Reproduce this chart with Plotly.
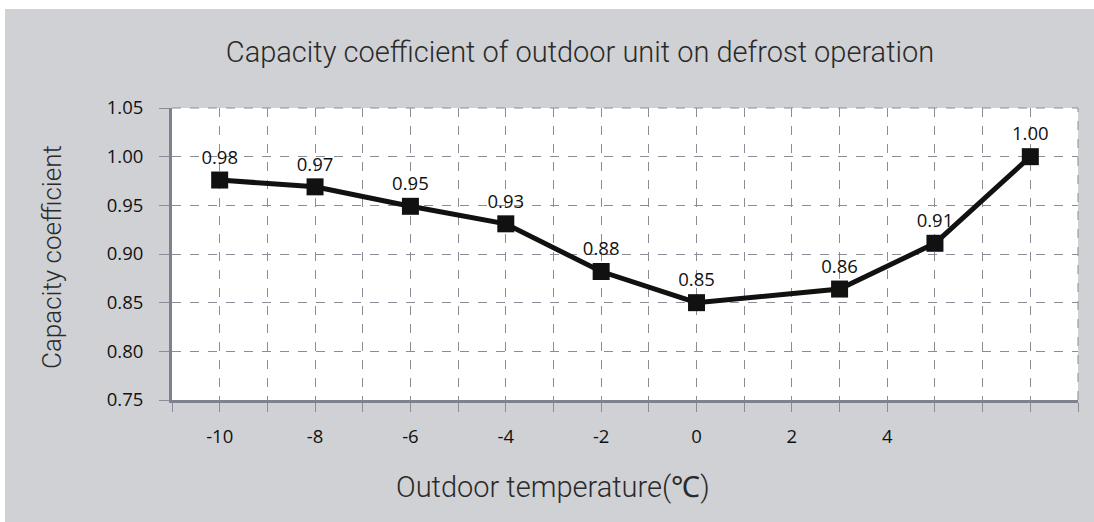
import plotly.graph_objects as go

# Data
temps = [-10, -8, -6, -4, -2, 0, 3, 5, 7]
coeffs = [0.976, 0.969, 0.949, 0.931, 0.882, 0.850, 0.864, 0.911, 1.000]
labels = ["0.98", "0.97", "0.95", "0.93", "0.88", "0.85", "0.86", "0.91", "1.00"]
x_tick_vals = list(range(-11, 9))
x_tick_text = ["-10", "-8", "-6", "-4", "-2", "0", "2", "4"]
x_tick_labelled = [-10, -8, -6, -4, -2, 0, 2, 4]
y_tick_vals = [0.75, 0.80, 0.85, 0.90, 0.95, 1.00, 1.05]

W, H = 1094, 522
ML, MT = 172, 108
MR = W - 1078
MB = H - 400
PW, PH = W - ML - MR, H - MT - MB

def px_x(p):
    return (p - ML) / PW

def px_y(p):
    return (H - MB - p) / PH

BG = "#D0D1D5"
GRID = "#8A8C98"
AXIS = "#7E818E"
TXT = "#2A2A2A"

ticktext = [x_tick_text[x_tick_labelled.index(v)] if v in x_tick_labelled else "" for v in x_tick_vals]

fig = go.Figure()
fig.add_trace(go.Scatter(
    x=temps, y=coeffs, mode="lines+markers+text",
    text=labels, textposition="top center",
    textfont=dict(family="Open Sans", size=18.5, color="#111111"),
    line=dict(color="#111111", width=5),
    marker=dict(symbol="square", size=17, color="#111111"),
    showlegend=False, cliponaxis=False,
))

fig.update_layout(
    width=W, height=H,
    margin=dict(l=ML, r=MR, t=MT, b=MB),
    paper_bgcolor=BG,
    plot_bgcolor="white",
    title=dict(
        text="Capacity coefficient of outdoor unit on defrost operation",
        x=580 / W, xref="container", xanchor="center",
        y=1 - 52 / H, yref="container", yanchor="middle",
        font=dict(family="Roboto", weight=300, size=29, color=TXT),
    ),
    shapes=[
        # white page strips on the left and top edges
        dict(type="rect", xref="paper", yref="paper", layer="below",
             x0=px_x(-2), x1=px_x(5), y0=px_y(H + 2), y1=px_y(-2),
             fillcolor="white", line=dict(width=0)),
        dict(type="rect", xref="paper", yref="paper", layer="below",
             x0=px_x(-2), x1=px_x(W + 2), y0=px_y(9), y1=px_y(-2),
             fillcolor="white", line=dict(width=0)),
        dict(type="line", xref="paper", yref="paper", x0=0, x1=1, y0=1, y1=1,
             line=dict(color=GRID, width=1, dash="dash")),
        dict(type="line", xref="paper", yref="paper", x0=1, x1=1, y0=0, y1=1,
             line=dict(color=GRID, width=1, dash="dash")),
    ],
    annotations=[
        dict(text="Capacity coefficient", xref="paper", yref="paper",
             x=px_x(52), y=px_y(257), textangle=-90, showarrow=False,
             xanchor="center", yanchor="middle",
             font=dict(family="Roboto", weight=300, size=26, color=TXT)),
        dict(text="Outdoor temperature(℃)", xref="paper", yref="paper",
             x=px_x(553), y=px_y(487), showarrow=False,
             xanchor="center", yanchor="middle",
             font=dict(family="Roboto", weight=300, size=29, color=TXT)),
    ],
)

fig.update_xaxes(
    range=[-11, 8], tickmode="array", tickvals=x_tick_vals, ticktext=ticktext,
    showgrid=True, gridcolor=GRID, griddash="dash", gridwidth=1,
    showline=True, linecolor=AXIS, linewidth=3,
    ticks="outside", ticklen=9, tickcolor=GRID, tickwidth=1,
    ticklabelstandoff=9,
    tickfont=dict(family="Open Sans", size=18.5, color="#111111"),
    zeroline=False,
)
fig.update_yaxes(
    range=[0.75, 1.05], tickmode="array", tickvals=y_tick_vals,
    ticktext=[f"{v:.2f}" for v in y_tick_vals],
    showgrid=True, gridcolor=GRID, griddash="dash", gridwidth=1,
    showline=True, linecolor=AXIS, linewidth=3,
    ticks="outside", ticklen=10, tickcolor=GRID, tickwidth=1,
    ticklabelstandoff=12,
    tickfont=dict(family="Open Sans", size=18.5, color="#111111"),
    zeroline=False,
)

fig.write_html(
    "out.html",
    config={"displayModeBar": False},
    post_script="document.body.style.margin='0';document.documentElement.style.overflow='hidden';",
)
